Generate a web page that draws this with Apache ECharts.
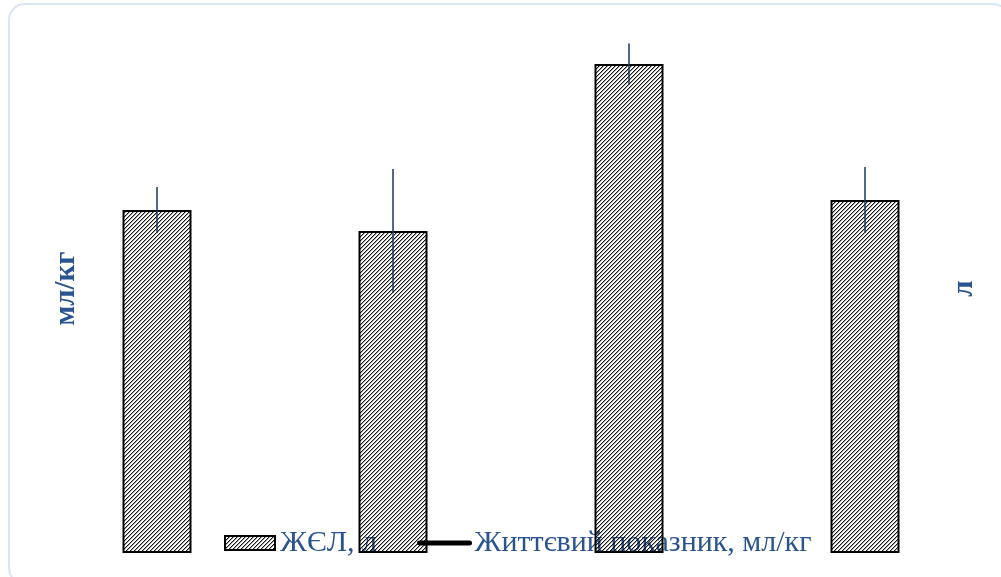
<!DOCTYPE html>
<html>
<head>
<meta charset="utf-8">
<script src="https://cdn.jsdelivr.net/npm/echarts@6/dist/echarts.min.js"></script>
<style>html,body{margin:0;padding:0;background:#fff}#c{width:1001px;height:577px}</style>
</head>
<body>
<div id="c"></div>
<script>
const categories = ['1', '2', '3', '4'];
const zhelValues = [3.43, 3.22, 4.89, 3.53];
const zhelErrors = [0.23, 0.62, 0.205, 0.33];
const vitalValues = [];
const seriesNames = ['ЖЄЛ, л', 'Життєвий показник, мл/кг'];
const axisNames = ['мл/кг', 'л'];

const pc = document.createElement('canvas');
pc.width = 4; pc.height = 4;
const px = pc.getContext('2d');
const img = px.createImageData(4, 4);
for (let y = 0; y < 4; y++) {
  for (let x = 0; x < 4; x++) {
    const k = (x + y) % 4;
    const a = k === 0 ? 235 : (k === 1 ? 90 : 0);
    const o = (y * 4 + x) * 4;
    img.data[o] = 0; img.data[o + 1] = 0; img.data[o + 2] = 0; img.data[o + 3] = a;
  }
}
px.putImageData(img, 0, 0);
const hatch = { image: pc, repeat: 'repeat' };

const textColor = '#2A5490';
const chart = echarts.init(document.getElementById('c'), null, { renderer: 'canvas' });
chart.setOption({
  animation: false,
  backgroundColor: '#fff',
  graphic: [{
    type: 'rect', z: 0,
    shape: { x: 9, y: 4, width: 1000, height: 580, r: 16 },
    style: { fill: 'none', stroke: '#DAE5F4', lineWidth: 2 }
  }],
  grid: { left: 39, right: 18, top: 24, bottom: 24, containLabel: false },
  legend: {
    z: 1,
    left: 219, top: 523,
    itemWidth: 50, itemHeight: 14, itemGap: 40,
    textStyle: { fontFamily: 'Liberation Serif', fontSize: 30, color: textColor },
    data: [
      { name: seriesNames[0], icon: 'rect', itemStyle: { borderWidth: 2, borderColor: '#000' } },
      { name: seriesNames[1], itemStyle: { opacity: 0 }, lineStyle: { width: 5, color: '#000', cap: 'round' } }
    ]
  },
  xAxis: {
    type: 'category', data: categories,
    axisLine: { show: false }, axisTick: { show: false }, axisLabel: { show: false },
    splitLine: { show: false }
  },
  yAxis: [{
    type: 'value', position: 'left', min: 0, max: 100,
    name: axisNames[0], nameLocation: 'middle', nameRotate: 90, nameGap: -42,
    nameTextStyle: { fontFamily: 'Liberation Serif', fontSize: 29, fontWeight: 'bold', color: textColor },
    axisLine: { show: false }, axisTick: { show: false }, axisLabel: { show: false }, splitLine: { show: false }
  }, {
    type: 'value', position: 'right', min: 0, max: 5.29,
    name: axisNames[1], nameLocation: 'middle', nameRotate: 90, nameGap: -33,
    nameTextStyle: { fontFamily: 'Liberation Serif', fontSize: 29, fontWeight: 'bold', color: textColor },
    axisLine: { show: false }, axisTick: { show: false }, axisLabel: { show: false }, splitLine: { show: false }
  }],
  series: [{
    name: seriesNames[0], type: 'bar', yAxisIndex: 1, z: 3,
    barWidth: 69,
    itemStyle: { color: hatch, borderColor: '#000', borderWidth: 2 },
    data: zhelValues
  }, {
    name: seriesNames[1], type: 'line', yAxisIndex: 0, z: 3,
    symbol: 'none', color: '#000',
    lineStyle: { color: '#000', width: 5 },
    data: vitalValues
  }, {
    name: 'err', type: 'custom', yAxisIndex: 1, z: 4,
    renderItem: function (params, api) {
      const i = api.value(0);
      const lo = api.coord([i, api.value(1)]);
      const hi = api.coord([i, api.value(2)]);
      return {
        type: 'line',
        shape: { x1: lo[0], y1: lo[1], x2: hi[0], y2: hi[1] },
        style: { stroke: '#17375E', lineWidth: 1.5 }
      };
    },
    data: zhelValues.map((v, i) => [i, v - zhelErrors[i], v + zhelErrors[i]])
  }]
});
</script>
</body>
</html>
